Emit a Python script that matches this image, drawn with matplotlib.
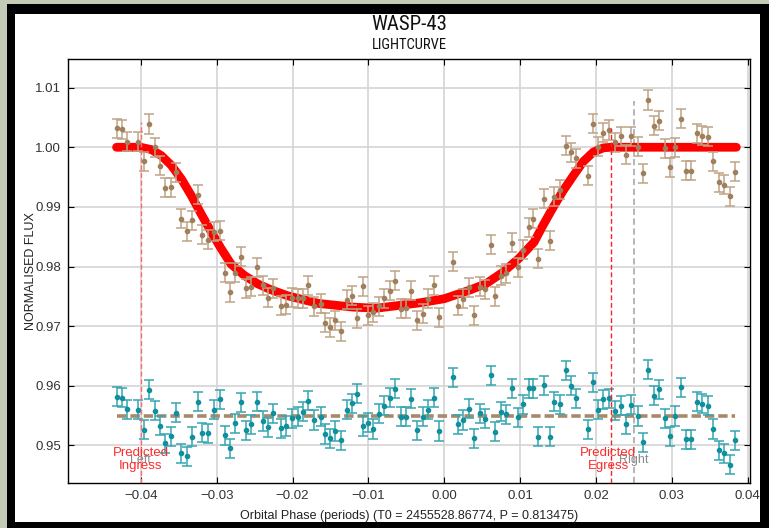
import matplotlib
matplotlib.use("Agg")
import matplotlib.pyplot as plt
import matplotlib.patches as patches
from matplotlib import font_manager

plt.rcParams['font.family'] = ['Liberation Sans', 'DejaVu Sans']

# orbital phase of every exposure
phase = [-0.0431, -0.04254, -0.0418, -0.04035, -0.0396, -0.0389, -0.03816, -0.0375, -0.03676, -0.03606,
         -0.03532, -0.03466, -0.03396, -0.03322, -0.03247, -0.0319, -0.03112, -0.03037, -0.02962, -0.02897,
         -0.02827, -0.02753, -0.02678, -0.02613, -0.02543, -0.02468, -0.02394, -0.02328, -0.02254, -0.02153,
         -0.02083, -0.02009, -0.01934, -0.0186, -0.01794, -0.01716,
         -0.01623, -0.0157, -0.01504, -0.01434, -0.0136, -0.01285, -0.01219, -0.01145, -0.01075, -0.01,
         -0.00934, -0.00864, -0.00789, -0.00715, -0.00645, -0.0057, -0.00504, -0.00439, -0.0036, -0.00285,
         -0.00219, -0.0014, -0.00075, 0.00114, 0.00184, 0.0025, 0.00325, 0.00395, 0.00474, 0.00535,
         0.00614, 0.00675, 0.0075, 0.0082, 0.00895, 0.00974, 0.0104, 0.01118, 0.0117,
         0.01238, 0.01317, 0.01392, 0.01449, 0.01524, 0.01599, 0.01674, 0.01736, 0.0189, 0.01965,
         0.02031, 0.02097, 0.02176, 0.02251, 0.02326, 0.02392, 0.02467, 0.02551, 0.02617, 0.02683,
         0.02758, 0.02824, 0.02903, 0.02969, 0.03044, 0.03119, 0.0319, 0.03256, 0.0333, 0.03401,
         0.03476, 0.03542, 0.03617, 0.03683, 0.03762, 0.03833]

flux = [1.00318, 1.00302, 1.00095, 1.00095, 0.99765, 1.0039, 1.0, 0.9969, 0.99318, 0.9933,
        0.99581, 0.98799, 0.98592, 0.98777, 0.99207, 0.98536, 0.98447, 0.98587, 0.98603, 0.97894,
        0.9757, 0.97894, 0.98168, 0.97637, 0.97665, 0.97989, 0.97682, 0.97475, 0.97637, 0.97346,
        0.97358, 0.97475, 0.97469, 0.97469, 0.97682, 0.97335,
        0.97374, 0.97056, 0.96978, 0.97095, 0.96911, 0.97441, 0.97514, 0.97134, 0.9767, 0.97179,
        0.97235, 0.97335, 0.97469, 0.97598, 0.97765, 0.9729, 0.97302, 0.97598, 0.97095, 0.97207,
        0.97458, 0.97682, 0.97151, 0.98084, 0.97346, 0.97458, 0.97654, 0.97179, 0.97665, 0.97615,
        0.98363, 0.97503, 0.97849, 0.97888, 0.98397, 0.97989, 0.98285, 0.98659, 0.98799,
        0.98128, 0.99134, 0.98436, 0.99173, 0.9929, 1.00028, 0.99916, 0.99816, 0.99525, 1.00391,
        1.00011, 1.0024, 1.0029, 1.00084, 1.00184, 0.99877, 1.00184, 1.00011, 0.99564, 1.00793,
        1.00363, 1.00447, 0.99983, 0.99665, 1.0, 1.00475, 0.99609, 0.99609, 1.00235, 1.00196,
        1.00179, 0.99765, 0.99413, 0.99369, 0.9918, 0.99592]

resid = [0.9582, 0.95803, 0.95607, 0.95596, 0.95264, 0.95933, 0.95579, 0.95331, 0.95034, 0.95157,
         0.95551, 0.94865, 0.9482, 0.95146, 0.95736, 0.95213, 0.95202, 0.95596, 0.95775, 0.95174,
         0.94949, 0.95371, 0.95725, 0.95258, 0.95354, 0.95736, 0.9541, 0.95303, 0.95539, 0.95287,
         0.95326, 0.95455, 0.95483, 0.95567, 0.95753, 0.95427, 0.95483, 0.95191, 0.95118, 0.95242,
         0.9509, 0.95596, 0.95708, 0.95865, 0.95326, 0.95382, 0.95275, 0.95528, 0.95663, 0.95803,
         0.95949, 0.95483, 0.95483, 0.95781, 0.95258, 0.95483, 0.95596,
         0.95803, 0.95242, 0.9614, 0.95354, 0.95427, 0.95612, 0.95118, 0.95539, 0.95444, 0.96174,
         0.9523, 0.95567, 0.95522, 0.95961, 0.95472, 0.95691, 0.95961, 0.95961, 0.95146, 0.96006,
         0.95146, 0.95736, 0.95691, 0.96258, 0.96, 0.95792, 0.9527, 0.96056, 0.95596, 0.95775,
         0.95792, 0.95579, 0.95663, 0.95354, 0.9568, 0.95494, 0.95051, 0.9627, 0.95837, 0.95944,
         0.95455, 0.95157, 0.95494, 0.95978, 0.95107, 0.95101, 0.95736, 0.95697, 0.95669, 0.95275,
         0.94921, 0.94865, 0.9468, 0.9509]

flux_err = 0.0016
resid_err = 0.0016

# fitted transit model
model_phase = [-0.0432, -0.0400, -0.0386, -0.0373, -0.0360, -0.03466, -0.03335, -0.03204, -0.03072, -0.02941,
               -0.0281, -0.02635, -0.0246, -0.02284, -0.02066, -0.01847, -0.0165, -0.01206, -0.0090, -0.00329,
               0.0, 0.00325, 0.00548, 0.00768, 0.00987, 0.01184, 0.01301, 0.01434, 0.01566, 0.01699,
               0.01832, 0.01965, 0.02097, 0.02195, 0.0385]
model_flux = [1.0, 1.0, 0.9996, 0.9986, 0.9970, 0.9947, 0.9919, 0.9888, 0.9858, 0.9830,
              0.9804, 0.9785, 0.9771, 0.9761, 0.9751, 0.9744, 0.9738, 0.9732, 0.9730, 0.9739,
              0.9746, 0.9760, 0.9771, 0.9790, 0.9814, 0.9841, 0.9869, 0.9899, 0.9927, 0.9952,
              0.9976, 0.9992, 0.9999, 1.0, 1.0]

resid_level = 0.955
ingress, egress = -0.040, 0.022
left_edge, right_edge = -0.040, 0.025

# narrow face for the title, if one is installed
names = {f.name for f in font_manager.fontManager.ttflist}
narrow = None
for cand in ['Liberation Sans Narrow', 'Arial Narrow', 'DejaVu Sans Condensed', 'Roboto Condensed',
             'Open Sans Condensed']:
    if cand in names:
        narrow = cand
        break
if narrow:
    title_kw = dict(family=[narrow, 'Liberation Sans'], fontsize=15)
    sub_kw = dict(family=[narrow, 'Liberation Sans'], fontsize=10.5)
else:
    title_kw = dict(family=['Liberation Sans'], fontsize=13, fontstretch='condensed')
    sub_kw = dict(family=['Liberation Sans'], fontsize=9, fontstretch='condensed')

W, H = 769, 528
fig = plt.figure(figsize=(W / 100, H / 100), dpi=100, facecolor='#c3cbb6')
# window frame
fig.patches.append(patches.Rectangle((7 / W, 0), 1 - 7 / W, 1 - 4 / H, transform=fig.transFigure,
                                     facecolor='black', edgecolor='none', zorder=-2))
fig.patches.append(patches.Rectangle((15 / W, 6 / H), (760 - 15) / W, (522 - 14) / H, transform=fig.transFigure,
                                     facecolor='white', edgecolor='none', zorder=-1))

ax = fig.add_axes([68 / W, 1 - 483 / H, (750 - 68) / W, (483 - 59) / H])

ax.grid(True, color='#d4d4d4', lw=1.2, zorder=0)
ax.set_axisbelow(True)

ax.plot(model_phase, model_flux, color='red', lw=6.3, solid_capstyle='round', zorder=3)

ax.errorbar(phase, flux, yerr=flux_err, fmt='o', ms=3, color='#a0805c', ecolor='#bfa385',
            elinewidth=1.1, capsize=3.5, capthick=1.1, zorder=4)

ax.plot([phase[0], phase[-1]], [resid_level, resid_level], color='#a8896a', lw=2.6,
        dashes=(2.6, 1.1), zorder=2)
ax.errorbar(phase, resid, yerr=resid_err, fmt='o', ms=3, color='#10909c', ecolor='#34a6b0',
            elinewidth=1.1, capsize=3.5, capthick=1.1, zorder=4)

ax.plot([ingress, ingress], [0.9437, 1.0042], color='#ff6a6a', lw=1.0, dashes=(3.5, 2), zorder=5)
ax.plot([egress, egress], [0.9437, 1.0032], color='#ff2020', lw=1.0, dashes=(3.5, 2), zorder=5)
ax.plot([right_edge, right_edge], [0.9437, 1.0078], color='#b0b0b0', lw=1.3, dashes=(3.5, 2), zorder=1)

ax.text(left_edge, 0.9475, 'Left', color='#8a8a8a', fontsize=9, ha='center', va='center', zorder=6)
ax.text(right_edge, 0.9475, 'Right', color='#8a8a8a', fontsize=9, ha='center', va='center', zorder=6)
ax.text(ingress, 0.9476, 'Predicted\nIngress', color='#ff2a2a', fontsize=9.5, ha='center', va='center',
        linespacing=1.1, zorder=7)
ax.text(egress - 0.0004, 0.9476, 'Predicted\nEgress', color='#ff2a2a', fontsize=9.5, ha='center', va='center',
        linespacing=1.1, zorder=7)

ax.set_xlim(-0.0496, 0.0403)
ax.set_ylim(0.9437, 1.0148)
ax.set_xticks([-0.04, -0.03, -0.02, -0.01, 0.0, 0.01, 0.02, 0.03, 0.04])
ax.set_yticks([0.95, 0.96, 0.97, 0.98, 0.99, 1.00, 1.01])
ax.set_yticklabels(['0.95', '0.96', '0.97', '0.98', '0.99', '1.00', '1.01'])
ax.set_xticklabels(['\u22120.04', '\u22120.03', '\u22120.02', '\u22120.01', '0.00', '0.01', '0.02', '0.03', '0.04'])
ax.tick_params(direction='in', length=4, width=0.8, top=True, right=True, labelsize=9.5,
               labelcolor='#333333', pad=5)
for s in ax.spines.values():
    s.set_linewidth(1.0)

ax.set_xlabel('Orbital Phase (periods) (T0 = 2455528.86774, P = 0.813475)', fontsize=9, color='#222222',
              labelpad=6)
ax.set_ylabel('NORMALISED FLUX', fontsize=9, color='#222222')
ax.yaxis.set_label_coords(-31 / 682, 0.5)

cx = (68 + 750) / 2 / W
fig.text(cx, 1 - 24 / H, 'WASP-43', ha='center', va='center', color='#111111', **title_kw)
fig.text(cx, 1 - 45 / H, 'LIGHTCURVE', ha='center', va='center', color='#111111', **sub_kw)

fig.savefig('out.png', dpi=100, facecolor=fig.get_facecolor())
